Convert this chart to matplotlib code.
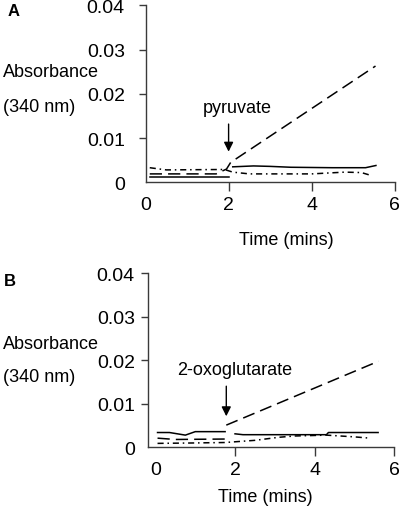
import numpy as np
import matplotlib
matplotlib.use('Agg')
import matplotlib.pyplot as plt

plt.rcParams['font.family'] = ['Liberation Sans', 'DejaVu Sans']

# Panel A (pyruvate) - absorbance traces
a_solid_t1 = [0.1, 2.0]
a_solid_y1 = [0.0011, 0.0011]
a_solid_t2 = [2.1, 2.6, 3.0, 3.5, 4.5, 5.3, 5.55]
a_solid_y2 = [0.0035, 0.0037, 0.0036, 0.0034, 0.0033, 0.0033, 0.0038]
a_dash_t = [0.1, 1.7, 1.95, 2.05, 5.54]
a_dash_y = [0.0019, 0.0019, 0.0030, 0.0045, 0.0263]
a_dd_t = [0.1, 0.5, 1.9, 2.1, 2.5, 4.0, 4.8, 5.2, 5.45]
a_dd_y = [0.0033, 0.0028, 0.0029, 0.0023, 0.0019, 0.0019, 0.0023, 0.0022, 0.0015]

# Panel B (2-oxoglutarate)
b_solid_t1 = [0.05, 0.35, 0.75, 1.0, 1.75]
b_solid_y1 = [0.0034, 0.0034, 0.0028, 0.0036, 0.0036]
b_solid_t2 = [2.0, 2.2, 4.3, 4.35, 5.6]
b_solid_y2 = [0.0031, 0.0029, 0.0029, 0.0034, 0.0034]
b_dash_t1 = [0.05, 0.5, 1.75]
b_dash_y1 = [0.0021, 0.0018, 0.0019]
b_dash_t2 = [1.78, 5.61]
b_dash_y2 = [0.0051, 0.0198]
b_dd_t = [0.05, 1.0, 1.75, 2.5, 3.1, 3.5, 4.3, 5.0, 5.4]
b_dd_y = [0.0009, 0.0010, 0.0011, 0.0016, 0.0023, 0.0026, 0.0028, 0.0024, 0.0021]

xticks = [0, 2, 4, 6]
yticks = [0, 0.01, 0.02, 0.03, 0.04]
yticklabels = ['0', '0.01', '0.02', '0.03', '0.04']

fig = plt.figure(figsize=(4, 5.1), dpi=100)
axA = fig.add_axes([0.364, 0.6406, 0.6225, 0.3467])
axB = fig.add_axes([0.37, 0.121, 0.615, 0.3408])

dash = (0, (8, 4))
dashdot = (0, (4, 2.5, 1, 2.5))
lw = 1.1

axA.plot(a_solid_t1, a_solid_y1, color='k', lw=lw)
axA.plot(a_solid_t2, a_solid_y2, color='k', lw=lw)
axA.plot(a_dash_t, a_dash_y, color='k', lw=lw, linestyle=dash)
axA.plot(a_dd_t, a_dd_y, color='k', lw=lw, linestyle=dashdot)

axB.plot(b_solid_t1, b_solid_y1, color='k', lw=lw)
axB.plot(b_solid_t2, b_solid_y2, color='k', lw=lw)
axB.plot(b_dash_t1, b_dash_y1, color='k', lw=lw, linestyle=dash)
axB.plot(b_dash_t2, b_dash_y2, color='k', lw=lw, linestyle=dash)
axB.plot(b_dd_t, b_dd_y, color='k', lw=lw, linestyle=dashdot)

for ax, xl, ypad in [(axA, (0, 6), 10), (axB, (-0.19, 6), 4.5)]:
    ax.set_xlim(*xl)
    ax.set_ylim(0, 0.04)
    ax.set_xticks(xticks)
    ax.set_xticklabels([str(t) for t in xticks])
    ax.set_yticks(yticks)
    ax.set_yticklabels(yticklabels)
    for s in ['top', 'right']:
        ax.spines[s].set_visible(False)
    for s in ['left', 'bottom']:
        ax.spines[s].set_color('#3a3a3a')
        ax.spines[s].set_linewidth(1.0)
    ax.tick_params(axis='x', length=6.5, width=1.0, color='#3a3a3a', labelsize=14, pad=3.5)
    ax.tick_params(axis='y', length=5, width=1.0, color='#3a3a3a', labelsize=14, pad=ypad)
    ax.xaxis.get_major_ticks()[0].tick1line.set_visible(False)
    ax.yaxis.get_major_ticks()[0].tick1line.set_visible(False)

# arrows and labels
axA.annotate('', xy=(2.0, 0.0063), xytext=(2.0, 0.0138),
             arrowprops=dict(arrowstyle='-|>', color='k', lw=1.0, mutation_scale=14))
axA.text(2.2, 0.0159, 'pyruvate', fontsize=13, ha='center', va='baseline')
axB.annotate('', xy=(1.78, 0.0065), xytext=(1.78, 0.0147),
             arrowprops=dict(arrowstyle='-|>', color='k', lw=1.0, mutation_scale=14))
axB.text(1.98, 0.0169, '2-oxoglutarate', fontsize=13, ha='center', va='baseline')

# figure texts
H = 510.0
fig.text(13.5 / 400, 1 - 11 / H, 'A', fontsize=12, fontweight='bold', ha='center', va='center')
fig.text(9.5 / 400, 1 - 282 / H, 'B', fontsize=12, fontweight='bold', ha='center', va='center')
fig.text(3 / 400, 1 - 77 / H, 'Absorbance', fontsize=13, ha='left', va='baseline')
fig.text(3 / 400, 1 - 112 / H, '(340 nm)', fontsize=13, ha='left', va='baseline')
fig.text(3 / 400, 1 - 349 / H, 'Absorbance', fontsize=13, ha='left', va='baseline')
fig.text(3 / 400, 1 - 382 / H, '(340 nm)', fontsize=13, ha='left', va='baseline')
fig.text(286 / 400, 1 - 241 / H, 'Time (mins)', fontsize=13, ha='center', va='center')
fig.text(265 / 400, 1 - 498 / H, 'Time (mins)', fontsize=13, ha='center', va='center')

fig.savefig('out.png', dpi=100)
